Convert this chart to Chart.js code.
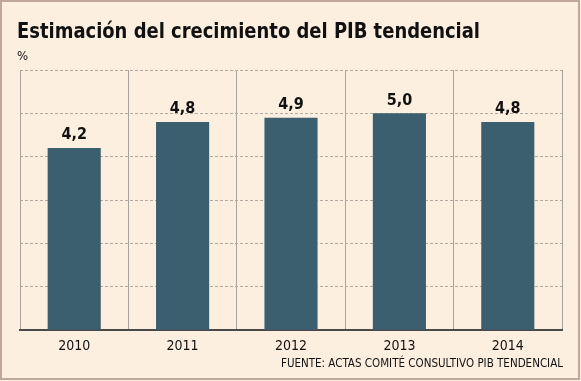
<!DOCTYPE html>
<html>
<head>
<meta charset="utf-8">
<script src="https://cdn.jsdelivr.net/npm/chart.js@4/dist/chart.umd.min.js"></script>
<style>
    html, body { margin: 0; padding: 0; background: #fcefdf; }
    #wrap { width: 581px; height: 381px; }
</style>
</head>
<body>
<div id="wrap"><canvas id="pibChart" width="581" height="381"></canvas></div>
<script>
const years = ["2010", "2011", "2012", "2013", "2014"];
const growth = [4.2, 4.8, 4.9, 5.0, 4.8];
const yTicks = [0, 1, 2, 3, 4, 5, 6];

const titleText = "Estimación del crecimiento del PIB tendencial";
const unitText = "%";
const sourceText = "FUENTE: ACTAS COMITÉ CONSULTIVO PIB TENDENCIAL";

const frame = {
    id: "frame",
    beforeDraw(chart) {
        const ctx = chart.ctx;
        ctx.save();
        ctx.fillStyle = "#fcefdf";
        ctx.fillRect(0, 0, chart.width, chart.height);
        ctx.strokeStyle = "#bfa89b";
        ctx.lineWidth = 2;
        ctx.strokeRect(1, 1, chart.width - 3, chart.height - 3);
        ctx.restore();
    },
    afterDraw(chart) {
        const ctx = chart.ctx;
        ctx.save();
        ctx.fillStyle = "#111";
        ctx.textBaseline = "alphabetic";

        // title, squeezed to the width of the original
        ctx.font = "bold 22px 'DejaVu Sans Condensed'";
        const w = ctx.measureText(titleText).width;
        const sx = 463 / w;
        ctx.save();
        ctx.translate(17, 38);
        ctx.scale(sx, 1);
        ctx.fillText(titleText, 0, 0);
        ctx.restore();

        ctx.font = "13px 'DejaVu Sans Condensed'";
        ctx.fillText(unitText, 17, 60);
        ctx.textAlign = "right";
        ctx.font = "11.5px 'DejaVu Sans Condensed'";
        ctx.fillText(sourceText, chart.chartArea.right + 1, 367);
        ctx.restore();
    }
};

const valueLabels = {
    id: "valueLabels",
    afterDatasetsDraw(chart) {
        const ctx = chart.ctx;
        const meta = chart.getDatasetMeta(0);
        ctx.save();
        ctx.fillStyle = "#111";
        ctx.font = "bold 16px 'DejaVu Sans Condensed'";
        ctx.textAlign = "center";
        ctx.textBaseline = "bottom";
        meta.data.forEach((bar, i) => {
            ctx.fillText(growth[i].toFixed(1).replace(".", ","), bar.x, bar.y - 5);
        });
        ctx.restore();
    }
};

new Chart(document.getElementById("pibChart"), {
    type: "bar",
    data: {
        labels: years,
        datasets: [{
            data: growth,
            backgroundColor: "#3b5f6f",
            borderWidth: 0,
            categoryPercentage: 1,
            barPercentage: 0.49
        }]
    },
    options: {
        responsive: false,
        animation: false,
        events: [],
        layout: {
            padding: { left: 20, right: 19, top: 70, bottom: 18 }
        },
        plugins: {
            legend: { display: false },
            tooltip: { enabled: false }
        },
        scales: {
            x: {
                grid: {
                    offset: true,
                    color: "#a9a29b",
                    lineWidth: 1,
                    drawTicks: false
                },
                border: { display: true, color: "#4a4a4a", width: 2 },
                ticks: {
                    color: "#111",
                    padding: 8,
                    font: { family: "'DejaVu Sans Condensed'", size: 14 }
                }
            },
            y: {
                min: 0,
                max: 6,
                afterBuildTicks(axis) {
                    axis.ticks = yTicks.map(v => ({ value: v }));
                },
                afterFit(axis) { axis.width = 0; },
                grid: {
                    color: "#b0aaa3",
                    lineWidth: 1,
                    drawTicks: false
                },
                border: { display: false, dash: [3, 2] },
                ticks: { display: false }
            }
        }
    },
    plugins: [frame, valueLabels]
});
</script>
</body>
</html>
